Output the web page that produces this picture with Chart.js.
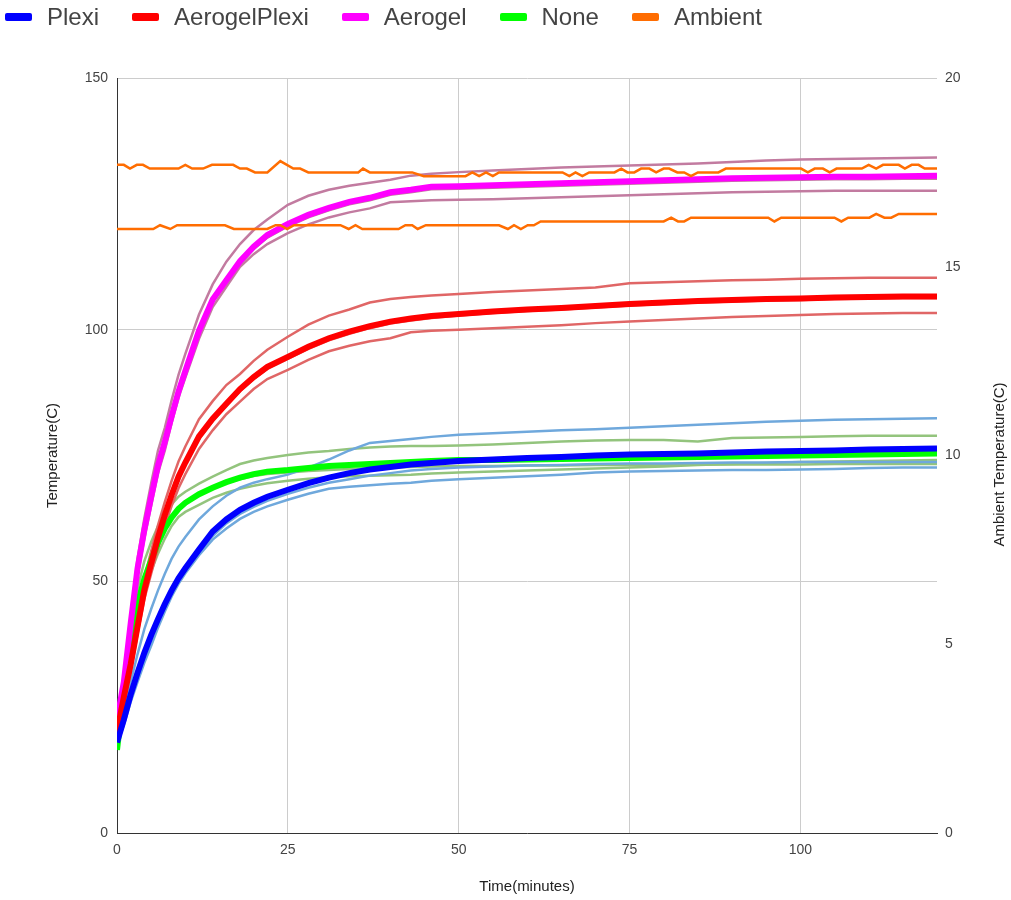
<!DOCTYPE html>
<html>
<head>
<meta charset="utf-8">
<title>Temperature vs time</title>
<script src="https://cdn.jsdelivr.net/npm/chart.js@4.4.1/dist/chart.umd.min.js"></script>
<style>
  html, body { margin: 0; padding: 0; background: #fff; }
  #wrap { position: relative; width: 1011px; height: 900px; }
  #legend {
    position: absolute; left: 5px; top: 2px; height: 30px;
    display: flex; align-items: center;
    font-family: "Liberation Sans", Arial, sans-serif; font-size: 24px; color: #444;
  }
  .item { display: flex; align-items: center; margin-right: 33px; }
  .swatch { width: 27px; height: 8px; border-radius: 2px; margin-right: 15px; }
</style>
</head>
<body>
<div id="wrap">
  <canvas id="chart" width="1011" height="900"></canvas>
  <div id="legend"></div>
</div>
<script>
// sample times (minutes)
const minutes = [0, 1, 2, 3, 4, 5, 6, 7, 8, 9, 10, 12, 14, 16, 18, 20, 22, 25, 28, 31, 34, 37, 40, 43, 46,
  50, 55, 60, 65, 70, 75, 80, 85, 90, 95, 100, 105, 110, 115, 120];

// averages (thick lines)
const plexi = [18, 22.5, 27.5, 31.8, 35.8, 39.3, 42.5, 45.5, 48.2, 50.6, 52.6, 56.3, 59.9, 62.3, 64.2, 65.6, 66.8,
  68.2, 69.5, 70.6, 71.5, 72.2, 72.7, 73.2, 73.5, 73.9, 74.2, 74.5, 74.7, 75, 75.2, 75.3, 75.4, 75.6, 75.8, 75.9, 76, 76.2, 76.3, 76.4];
const aerogelPlexi = [20, 27, 33.5, 41, 48.3, 53.6, 58.7, 63.2, 67.2, 70.8, 73.6, 78.8, 82.3, 85.3, 88.2, 90.6, 92.6,
  94.6, 96.6, 98.3, 99.6, 100.7, 101.6, 102.2, 102.7, 103.1, 103.6, 104, 104.3, 104.7, 105.1, 105.4, 105.7, 105.9, 106.1, 106.2, 106.4, 106.5, 106.6, 106.6];
const aerogel = [22.5, 30, 41.6, 52.5, 60.2, 66.8, 73, 77.7, 82.8, 87.7, 91.8, 99.8, 106, 109.8, 113.6, 116.5, 118.8,
  121, 122.8, 124.2, 125.4, 126.2, 127.3, 127.8, 128.4, 128.5, 128.7, 128.9, 129.1, 129.3, 129.5, 129.7, 129.9, 130.1, 130.2, 130.3, 130.4, 130.4, 130.5, 130.6];
const none = [16.5, 28, 39.5, 45.5, 50.5, 54.2, 57.7, 60.5, 62.7, 64.4, 65.6, 67.3, 68.6, 69.7, 70.6, 71.3, 71.8,
  72.1, 72.5, 72.9, 73.1, 73.3, 73.5, 73.7, 73.9, 74.1, 74.1, 74.2, 74.3, 74.4, 74.5, 74.6, 74.7, 74.8, 74.9, 75, 75.1, 75.2, 75.3, 75.4];

// individual runs (thin lines)
const plexiRuns = [
  [18, 24, 30, 35.5, 40.5, 44.5, 48.2, 51.5, 54.5, 56.9, 58.8, 62.3, 64.9, 67, 68.6, 69.6, 70.3,
    71.2, 72.6, 74.2, 76, 77.5, 77.9, 78.3, 78.7, 79.1, 79.4, 79.7, 80, 80.2, 80.5, 80.8, 81.1, 81.4, 81.7, 81.9, 82.1, 82.2, 82.3, 82.4],
  [17.5, 22, 26.8, 31, 34.8, 38.3, 41.8, 44.8, 47.6, 50, 51.8, 55.5, 59, 61.5, 63.4, 64.8, 66,
    67.4, 68.6, 69.6, 70.3, 71, 71.5, 72, 72.3, 72.6, 72.8, 73, 73.1, 73.3, 73.4, 73.4, 73.5, 73.6, 73.6, 73.7, 73.7, 73.7, 73.7, 73.7],
  [17.5, 21.5, 26, 30, 33.8, 37.2, 40.8, 44, 47, 49.5, 51.6, 55.2, 58.3, 60.5, 62.4, 63.8, 64.9,
    66.2, 67.4, 68.4, 68.8, 69.1, 69.4, 69.6, 70, 70.3, 70.6, 70.9, 71.2, 71.6, 71.8, 71.9, 72, 72.1, 72.1, 72.2, 72.3, 72.5, 72.6, 72.6]
];
const aerogelPlexiRuns = [
  [20, 28, 35, 43, 50.5, 56, 61.2, 65.8, 70, 73.8, 76.8, 82.2, 85.8, 89, 91.2, 93.8, 96,
    98.6, 101, 102.8, 104, 105.4, 106.1, 106.5, 106.8, 107.1, 107.5, 107.8, 108.1, 108.4, 109.2, 109.4, 109.6, 109.8, 109.9, 110.1, 110.2, 110.3, 110.3, 110.3],
  [19.5, 26.5, 33, 40.5, 47.8, 53.2, 58.3, 62.8, 66.8, 70.3, 73.2, 78.3, 81.8, 84.9, 87.8, 90.2, 92.2,
    94.2, 96.2, 97.9, 99.2, 100.3, 101.2, 101.8, 102.3, 102.8, 103.3, 103.7, 104, 104.4, 104.8, 105.1, 105.4, 105.6, 105.8, 105.9, 106.1, 106.2, 106.3, 106.3],
  [19, 25.5, 32, 39.5, 46.5, 51.5, 56.5, 61, 65, 68.5, 71.3, 76.3, 80, 83.2, 85.7, 88.2, 90.2,
    92, 94, 95.7, 96.8, 97.7, 98.3, 99.5, 99.8, 100, 100.3, 100.6, 100.9, 101.3, 101.6, 101.9, 102.2, 102.5, 102.7, 102.9, 103.1, 103.2, 103.3, 103.3]
];
const aerogelRuns = [
  [22.5, 31, 43, 54.5, 62.5, 69.5, 76, 80.5, 86, 91, 95.2, 103, 109, 113.5, 117, 119.8, 121.9,
    124.8, 126.6, 127.8, 128.6, 129.2, 129.8, 130.6, 131, 131.3, 131.6, 131.9, 132.2, 132.4, 132.6, 132.8, 133, 133.3, 133.6, 133.8, 133.9, 134, 134.1, 134.2],
  [22.5, 29.5, 41.3, 52, 59.8, 66.2, 72.5, 77.2, 82.3, 87.2, 91.2, 99.2, 105.5, 109.2, 113, 116, 118.3,
    120.5, 122.3, 123.7, 124.9, 125.7, 126.8, 127.3, 127.9, 128, 128.2, 128.4, 128.6, 128.8, 129, 129.2, 129.4, 129.6, 129.7, 129.8, 129.9, 129.9, 130, 130],
  [22, 29, 40.5, 51, 58.5, 65, 71.5, 76, 81.5, 86.5, 90.5, 98.2, 104.5, 108.5, 112.5, 115, 117,
    119.2, 120.9, 122.3, 123.3, 124.1, 125.3, 125.5, 125.7, 125.8, 125.9, 126.1, 126.3, 126.5, 126.7, 126.9, 127.1, 127.3, 127.4, 127.5, 127.6, 127.6, 127.6, 127.6]
];
const noneRuns = [
  [16.5, 30, 42, 48.5, 54, 57.8, 61, 63.3, 65.3, 66.8, 67.8, 69.4, 70.8, 72.1, 73.3, 74, 74.5,
    75.1, 75.6, 75.9, 76.3, 76.6, 76.8, 76.9, 76.9, 77, 77.2, 77.5, 77.8, 78, 78.1, 78.1, 77.8, 78.5, 78.6, 78.7, 78.8, 78.9, 78.9, 78.9],
  [16.5, 28, 39.5, 45.3, 50.3, 54, 57.5, 60.3, 62.5, 64.2, 65.4, 67.2, 68.5, 69.5, 70.3, 70.9, 71.3,
    71.6, 71.9, 72.1, 72.3, 72.5, 72.6, 72.7, 72.8, 72.9, 72.9, 73, 73, 73.1, 73.1, 73.1, 73.2, 73.2, 73.2, 73.2, 73.3, 73.3, 73.3, 73.3],
  [16.5, 26.5, 37, 43, 48, 52, 55.5, 58.5, 61, 62.8, 63.8, 65.2, 66.6, 67.6, 68.4, 69, 69.5,
    70, 70.4, 70.7, 70.9, 71, 71.1, 71.2, 71.4, 71.6, 71.8, 72, 72.2, 72.4, 72.6, 72.8, 73.1, 73.3, 73.5, 73.7, 73.8, 73.9, 74, 74.1]
];

// ambient temperature (right axis), own sample times
const ambientTimeA = [0, 1, 1.9, 2.9, 3.8, 4.8, 9, 10, 11, 12.6, 13.9, 17, 18, 19, 20.2, 22, 23.9, 25.8, 26.8, 28,
  35.3, 36, 37, 43.2, 44.9, 51, 52, 53, 54, 55, 55.9, 65.2, 66.2, 67.1, 68.1, 69.1, 72.8, 73.8, 74.7, 75.7,
  76.7, 77.9, 78.9, 80, 80.8, 82, 83, 84, 85, 88, 89.1, 100.1, 101.1, 102.1, 103.3, 104.3, 105.3, 109, 110,
  111.1, 112.1, 114.4, 115.3, 116.3, 117.3, 118.2, 120];
const ambientA = [17.7, 17.7, 17.6, 17.7, 17.7, 17.6, 17.6, 17.7, 17.6, 17.6, 17.7, 17.7, 17.6, 17.6, 17.5, 17.5, 17.8, 17.6, 17.6, 17.5,
  17.5, 17.6, 17.5, 17.5, 17.4, 17.4, 17.5, 17.4, 17.5, 17.4, 17.5, 17.5, 17.4, 17.5, 17.4, 17.5, 17.5, 17.6, 17.5, 17.5,
  17.6, 17.6, 17.5, 17.6, 17.6, 17.5, 17.5, 17.4, 17.5, 17.5, 17.6, 17.6, 17.5, 17.6, 17.6, 17.5, 17.6, 17.6, 17.7,
  17.6, 17.7, 17.7, 17.6, 17.7, 17.7, 17.6, 17.6];
const ambientTimeB = [0, 5.3, 6.3, 7.8, 8.8, 15.8, 17.1, 22, 23.2, 23.9, 24.9, 25.9, 32.7, 33.9, 34.9, 35.9, 41.2, 42.2,
  43.2, 44, 45.2, 55.9, 57.2, 58.1, 59.1, 60.1, 61, 62, 80, 81.1, 82.1, 83, 84, 95.3, 96.2, 97.2, 105, 106, 107,
  110.1, 111.1, 112.3, 113.3, 114.4, 120];
const ambientB = [16.0, 16.0, 16.1, 16.0, 16.1, 16.1, 16.0, 16.0, 16.1, 16.1, 16.0, 16.1, 16.1, 16.0, 16.1, 16.0, 16.0, 16.1,
  16.1, 16.0, 16.1, 16.1, 16.0, 16.1, 16.0, 16.1, 16.1, 16.2, 16.2, 16.3, 16.2, 16.2, 16.3, 16.3, 16.2, 16.3, 16.3, 16.2, 16.3,
  16.3, 16.4, 16.3, 16.3, 16.4, 16.4];

const xTicks = [0, 25, 50, 75, 100];

const colors = {
  Plexi: '#0000ff', AerogelPlexi: '#ff0000', Aerogel: '#ff00ff', None: '#00ff00', Ambient: '#ff6d01'
};
const runColors = {
  Plexi: '#6fa8dc', AerogelPlexi: '#e06666', Aerogel: '#c27ba0', None: '#93c47d'
};

function line(label, xs, ys, color, width, order, axis) {
  return {
    label,
    data: xs.map((x, i) => ({ x, y: ys[i] })),
    borderColor: color,
    backgroundColor: color,
    borderWidth: width,
    pointRadius: 0,
    order,
    yAxisID: axis || 'y'
  };
}

const datasets = [
  line('Ambient', ambientTimeA, ambientA, colors.Ambient, 2.5, 0, 'y1'),
  line('Ambient', ambientTimeB, ambientB, colors.Ambient, 2.5, 0, 'y1'),
  line('Plexi', minutes, plexi, colors.Plexi, 6, 1),
  line('AerogelPlexi', minutes, aerogelPlexi, colors.AerogelPlexi, 6, 1),
  line('Aerogel', minutes, aerogel, colors.Aerogel, 6, 1),
  line('None', minutes, none, colors.None, 6, 1)
];
[['Plexi', plexiRuns], ['AerogelPlexi', aerogelPlexiRuns], ['Aerogel', aerogelRuns], ['None', noneRuns]]
  .forEach(([name, runs]) => runs.forEach((r, i) =>
    datasets.push(line(name + ' run ' + (i + 1), minutes, r, runColors[name], 2.5, 2))));

// legend
const legendEl = document.getElementById('legend');
['Plexi', 'AerogelPlexi', 'Aerogel', 'None', 'Ambient'].forEach(name => {
  const item = document.createElement('div');
  item.className = 'item';
  item.innerHTML = `<span class="swatch" style="background:${colors[name]}"></span><span>${name}</span>`;
  legendEl.appendChild(item);
});

// right axis title reads bottom-to-top, like the left one
const rightTitle = {
  id: 'rightTitle',
  afterDraw(chart) {
    const { ctx, chartArea } = chart;
    ctx.save();
    ctx.translate(1000, (chartArea.top + chartArea.bottom) / 2 + 9);
    ctx.rotate(-Math.PI / 2);
    ctx.font = '15px "Liberation Sans", Arial, sans-serif';
    ctx.fillStyle = '#222';
    ctx.textAlign = 'center';
    ctx.textBaseline = 'middle';
    ctx.fillText('Ambient Temperature(C)', 0, 0);
    ctx.restore();
  }
};

Chart.defaults.font.family = '"Liberation Sans", Arial, sans-serif';

new Chart(document.getElementById('chart'), {
  type: 'line',
  data: { datasets },
  plugins: [rightTitle],
  options: {
    responsive: false,
    animation: false,
    layout: { padding: { top: 78, left: 0, right: 0, bottom: 0 } },
    plugins: { legend: { display: false }, tooltip: { enabled: false } },
    scales: {
      x: {
        type: 'linear', min: 0, max: 120,
        afterBuildTicks: s => { s.ticks = xTicks.map(v => ({ value: v })); },
        afterFit: s => { s.height = 67; },
        grid: { color: '#cccccc', drawTicks: false },
        border: { color: '#333333' },
        ticks: { color: '#444', font: { size: 14 }, padding: 9 },
        title: { display: true, text: 'Time(minutes)', color: '#222', font: { size: 15 }, padding: { top: 0, bottom: 4 } }
      },
      y: {
        position: 'left', min: 0, max: 150,
        afterFit: s => { s.width = 117; },
        grid: { color: '#cccccc', drawTicks: false },
        border: { color: '#333333' },
        ticks: { stepSize: 50, color: '#444', font: { size: 14 }, padding: 9 },
        title: { display: true, text: 'Temperature(C)', color: '#222', font: { size: 15 }, padding: { top: 44, bottom: 0 } }
      },
      y1: {
        position: 'right', min: 0, max: 20,
        afterFit: s => { s.width = 74; },
        grid: { display: false, drawTicks: false },
        border: { display: false },
        ticks: { stepSize: 5, color: '#444', font: { size: 14 }, padding: 8 }
      }
    }
  }
});
</script>
</body>
</html>
